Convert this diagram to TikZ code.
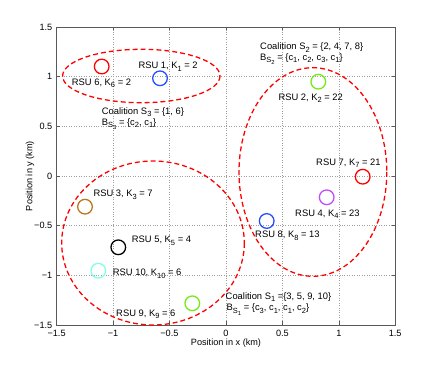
\documentclass[tikz,border=0pt]{standalone}
\usepackage{fontspec}
\setmainfont{Liberation Sans}
\definecolor{cred}{rgb}{1,0,0}
\definecolor{cblue}{rgb}{0.15,0.3,1}
\definecolor{cgreen}{rgb}{0.45,0.92,0.1}
\definecolor{cbrown}{rgb}{0.72,0.47,0.1}
\definecolor{ccyan}{rgb}{0.5,1,0.9}
\definecolor{cpurple}{rgb}{0.75,0.3,1}
\definecolor{axisgray}{rgb}{0.35,0.35,0.35}
\newcommand\sub[1]{\raisebox{-0.55ex}{\fontsize{6.4}{6.4}\selectfont #1}}
\newcommand\subsub[1]{\raisebox{-0.55ex}{\fontsize{6.4}{6.4}\selectfont S\raisebox{-0.45ex}{\fontsize{5}{5}\selectfont #1}}}
\tikzset{
  lbl/.style={anchor=base west,inner sep=0pt,yshift=-0.102cm,font=\fontsize{8}{9}\selectfont},
  ticklbl/.style={inner sep=0pt,font=\fontsize{7.8}{9}\selectfont},
  rsu/.style={circle,inner sep=0pt,minimum size=0.44cm,line width=1.1pt},
  coal/.style={draw=cred,line width=1.1pt,dash pattern=on 4.2pt off 2.6pt},
  gridline/.style={gray!75,line width=0.4pt,dash pattern=on 0.5pt off 1.6pt},
}
\begin{document}
\begin{tikzpicture}[x=0.03cm,y=-0.03cm]
\useasboundingbox[fill=white] (0,0) rectangle (436,367);
% grid
\foreach \gx in {113,169.4,226,282.4,338.8}
  \draw[gridline] (\gx,27.05) -- (\gx,324.95);
\foreach \gy in {76.7,126.35,176,225.65,275.3}
  \draw[gridline] (56.6,\gy) -- (395.2,\gy);
% ticks
\foreach \gx in {113,169.4,226,282.4,338.8}{
  \draw[axisgray,line width=0.5pt] (\gx,324.95) -- (\gx,321.5);
  \draw[axisgray,line width=0.5pt] (\gx,27.05) -- (\gx,30.5);}
\foreach \gy in {76.7,126.35,176,225.65,275.3}{
  \draw[axisgray,line width=0.5pt] (56.6,\gy) -- (60.1,\gy);
  \draw[axisgray,line width=0.5pt] (395.2,\gy) -- (391.7,\gy);}
% box
\draw[axisgray,line width=0.7pt] (56.6,27.05) rectangle (395.2,324.95);
% tick labels
\foreach \gx/\t in {56.6/−1.5,113/−1,169.4/−0.5,226/0,282.4/0.5,338.8/1,395.2/1.5}
  \node[ticklbl] (xt\gx) at (\gx,333.3) {\t};
\foreach \gy/\t in {27.05/1.5,76.7/1,126.35/0.5,176/0,225.65/−0.5,275.3/−1,324.95/−1.5}
  \node[ticklbl,anchor=east] (yt\gy) at (52.5,\gy) {\t};
\node[ticklbl] (xlab) at (226,343.5) {Position in x (km)};
\node[ticklbl,rotate=90] (ylab) at (30,176) {Position in y (km)};
% coalitions
\draw[coal] (141.3,76) ellipse [x radius=78.7,y radius=26.7];
\draw[coal] (312.9,172) ellipse [x radius=73.9,y radius=104.3];
\draw[coal] (153,243) ellipse [x radius=91.3,y radius=82];
% RSUs
\node[rsu,draw=cred] (r6) at (101.7,66.5) {};
\node[rsu,draw=cblue] (r1) at (160,78.3) {};
\node[rsu,draw=cgreen] (r2) at (318.3,81.7) {};
\node[rsu,draw=cred] (r7) at (362.7,176.7) {};
\node[rsu,draw=cpurple] (r4) at (326.7,197.3) {};
\node[rsu,draw=cblue] (r8) at (266.7,221) {};
\node[rsu,draw=cbrown] (r3) at (85,206.7) {};
\node[rsu,draw=black] (r5) at (118.3,247.3) {};
\node[rsu,draw=ccyan] (r10) at (98.3,270.7) {};
\node[rsu,draw=cgreen] (r9) at (192.3,303.3) {};
% labels
\node[lbl] (l1) at (138.3,65) {RSU 1, K\sub{1} = 2};
\node[lbl] (l6) at (71.7,81.7) {RSU 6, K\sub{6} = 2};
\node[lbl] (c3) at (101.7,110.7) {Coalition S\sub{3} = \{1, 6\}};
\node[lbl] (b3) at (101.7,121.7) {B\subsub{3} = \{c\sub{2}, c\sub{1}\}};
\node[lbl] (c2) at (260,46) {Coalition S\sub{2} = \{2, 4, 7, 8\}};
\node[lbl] (b2) at (260,56.7) {B\subsub{2} = \{c\sub{1}, c\sub{2}, c\sub{3}, c\sub{1}\}};
\node[lbl] (l2) at (278.3,96.7) {RSU 2, K\sub{2} = 22};
\node[lbl] (l7) at (316,161.7) {RSU 7, K\sub{7} = 21};
\node[lbl] (l4) at (295,212.7) {RSU 4, K\sub{4} = 23};
\node[lbl] (l8) at (255,234) {RSU 8, K\sub{8} = 13};
\node[lbl] (l3) at (93.3,193.3) {RSU 3, K\sub{3} = 7};
\node[lbl] (l5) at (131.7,239.3) {RSU 5, K\sub{5} = 4};
\node[lbl] (l10) at (112.7,272.3) {RSU 10, K\sub{10} = 6};
\node[lbl] (l9) at (116,312.7) {RSU 9, K\sub{9} = 6};
\node[lbl] (c1) at (225.5,295.7) {Coalition S\sub{1} =\{3, 5, 9, 10\}};
\node[lbl] (b1) at (226.5,307.3) {B\subsub{1} = \{c\sub{3}, c\sub{1}, c\sub{1}, c\sub{2}\}};
\end{tikzpicture}
\end{document}
